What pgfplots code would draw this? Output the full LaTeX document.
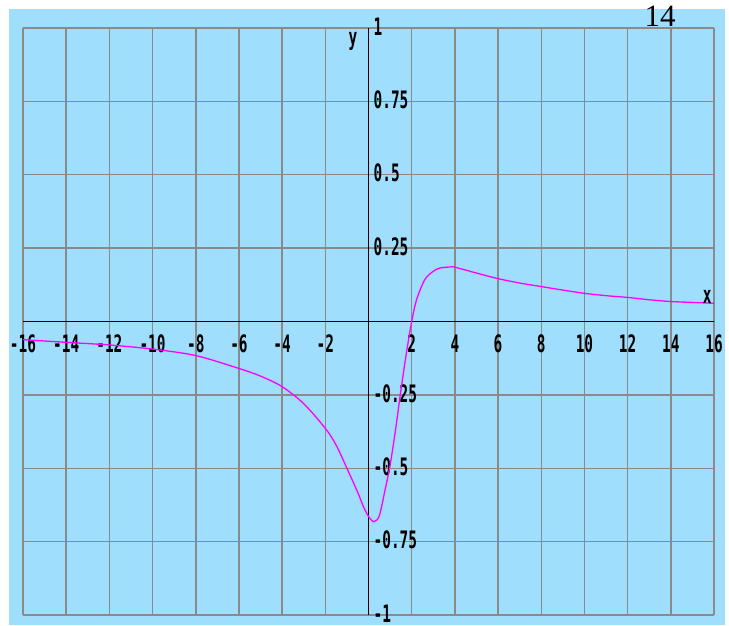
\documentclass[border=0pt]{standalone}
\usepackage{pgfplots}
\pgfplotsset{compat=1.18}
\usepackage{fontspec}
\setmainfont{Liberation Serif}
\newfontfamily\tickfont[FakeStretch=0.6]{DejaVu Sans Mono}
\definecolor{bgblue}{RGB}{160,222,254}
\definecolor{gridgray}{RGB}{138,138,138}
\definecolor{curvemag}{RGB}{255,0,255}
\begin{document}
\begin{tikzpicture}[x=1pt,y=1pt]
\path[use as bounding box] (0,0) rectangle (729,625);
\fill[bgblue] (9,0) rectangle (725,615.5);
\begin{axis}[
  at={(23pt,10pt)}, anchor=south west,
  scale only axis, width=691pt, height=587pt,
  xmin=-16, xmax=16, ymin=-1, ymax=1,
  axis lines=middle,
  axis line style={-, black, line width=1.2pt},
  hide obscured x ticks=false, hide obscured y ticks=false,
  major tick length=0pt,
  xtick={-16,-14,-12,-10,-8,-6,-4,-2,0,2,4,6,8,10,12,14,16},
  xticklabels={-16,-14,-12,-10,-8,-6,-4,-2,,2,4,6,8,10,12,14,16},
  ytick={-1,-0.75,-0.5,-0.25,0,0.25,0.5,0.75,1},
  yticklabels={-1,-0.75,-0.5,-0.25,,0.25,0.5,0.75,1},
  grid=major,
  major grid style={gridgray, line width=1.5pt},
  tick label style={font=\tickfont\bfseries\fontsize{24}{24}\selectfont, inner sep=0pt, text=black},
  xticklabel style={anchor=north, yshift=-13pt},
  yticklabel style={anchor=west, xshift=5pt, yshift=1.5pt},
  clip=false,
]
\addplot[curvemag, line width=1.3pt, smooth] coordinates {
(-16,-0.062) (-14,-0.071) (-12,-0.080) (-10,-0.094) (-8,-0.116)
(-6,-0.160) (-5,-0.186) (-4,-0.222) (-3,-0.280) (-2,-0.364)
(-1.5,-0.421) (-1,-0.500) (-0.5,-0.582) (-0.25,-0.628) (0,-0.664)
(0.25,-0.682) (0.5,-0.662) (0.75,-0.580) (1,-0.490) (1.25,-0.370)
(1.5,-0.235) (1.75,-0.110) (2.0,0.0) (2.23,0.075) (2.61,0.143) (3.0,0.171)
(3.3,0.182) (3.8,0.186) (4,0.185) (5,0.165) (6,0.146) (7,0.131)
(8,0.119) (9,0.107) (10,0.096) (11,0.088) (12,0.082) (13,0.074)
(14,0.068) (15,0.065) (16,0.062)
};
\node[font=\tickfont\bfseries\fontsize{24}{24}\selectfont] at (axis cs:15.68,0.085) {x};
\node[font=\tickfont\bfseries\fontsize{24}{24}\selectfont] at (axis cs:-0.72,0.955) {y};
\end{axis}
\node[font=\fontsize{31}{31}\selectfont] at (660,609) {14};
\end{tikzpicture}
\end{document}
